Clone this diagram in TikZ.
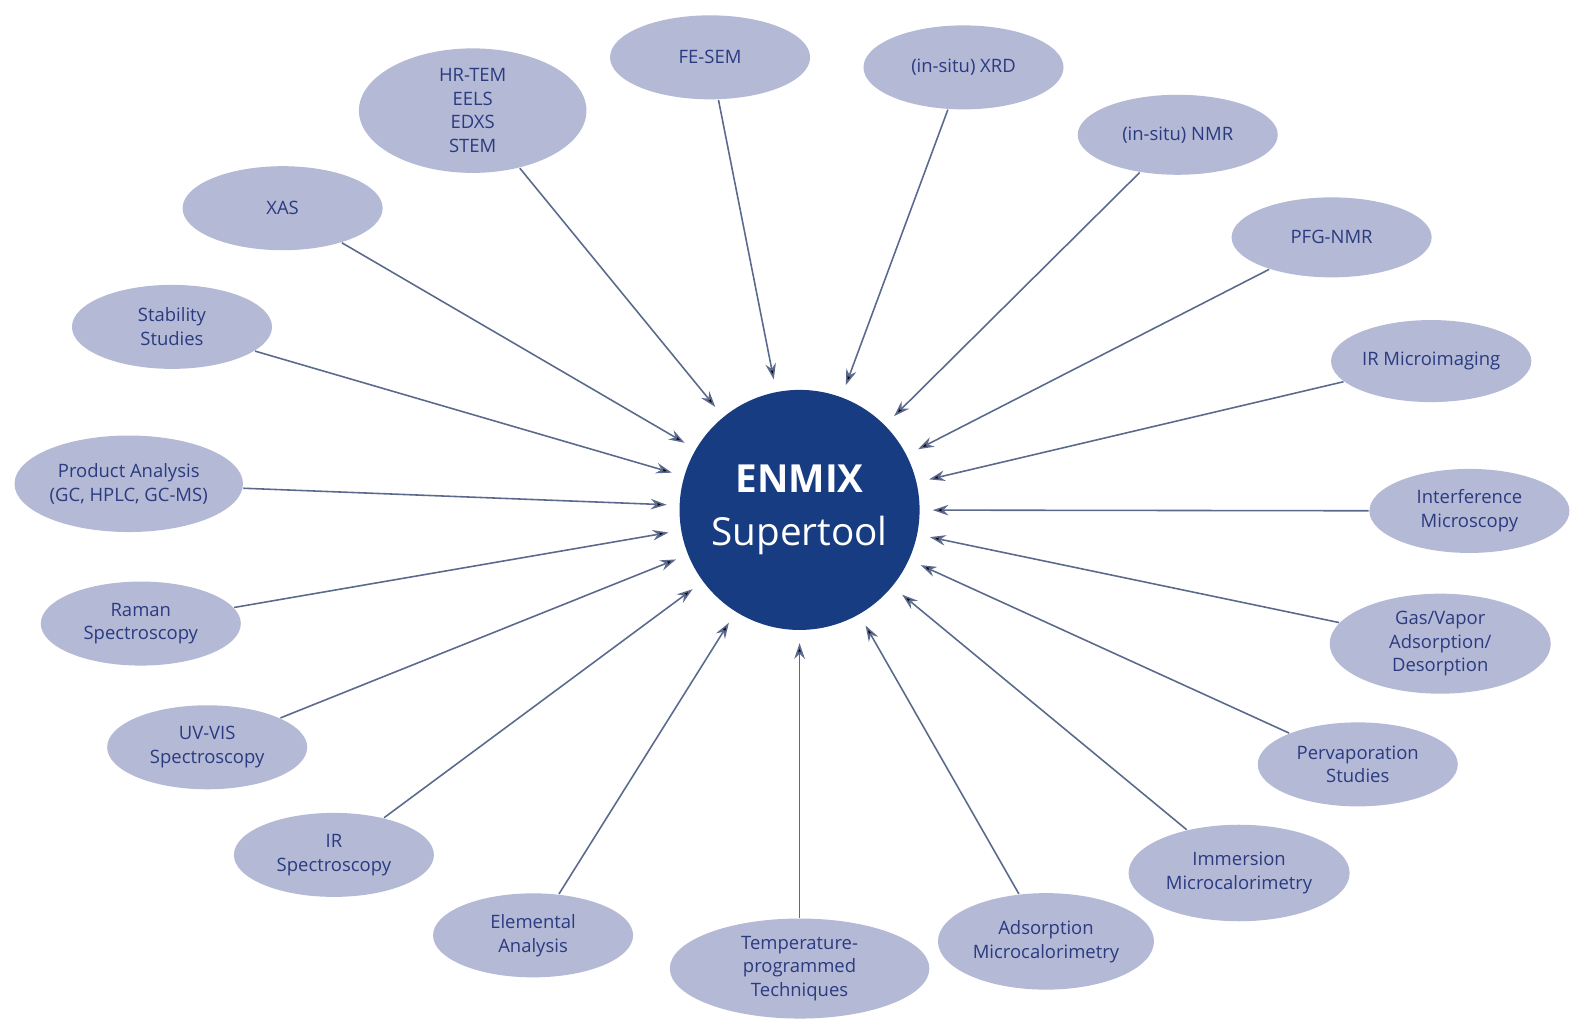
\documentclass[tikz,border=0pt]{standalone}
\usepackage{fontspec}
\setmainfont{Open Sans}
\usepackage[dvipsnames]{xcolor}
\usetikzlibrary{shapes.geometric,arrows.meta}
\definecolor{toolfill}{HTML}{B4B9D6}
\definecolor{tooltext}{HTML}{2A3B80}
\definecolor{corefill}{HTML}{173C82}
\definecolor{linkcol}{HTML}{5B6A8C}

\begin{document}
\begin{tikzpicture}[x=0.02011cm,y=-0.02011cm,->,>={Stealth[length=9pt,width=6pt]},shorten >=7pt,line width=0.9pt,
    tool node/.style={ellipse,fill=toolfill,text=tooltext,align=center,minimum width=4cm,minimum height=1.68cm,inner sep=1pt,font=\fontsize{10.5}{13.5}\selectfont},
    core node/.style={circle,fill=corefill,text=white,align=center,minimum size=4.8cm,font=\fontsize{22}{30}\selectfont}]
                \useasboundingbox (0,0) rectangle (1568,1017);

                \node[core node] (0) at (795,507) {\textbf{ENMIX}\\Supertool};

                \node[tool node] (1) at (706,57) {FE-SEM};
                \node[tool node] (2) at (958,67) {(in-situ) XRD};
                \node[tool node, minimum width=4.55cm, minimum height=2.25cm] (3) at (470,110) {HR-TEM\\EELS\\EDXS\\STEM};
                \node[tool node, minimum height=1.6cm] (4) at (1171,134) {(in-situ) NMR};
                \node[tool node] (5) at (281,207) {XAS};
                \node[tool node, minimum height=1.6cm] (6) at (1324,236) {PFG-NMR};
                \node[tool node] (7) at (171,325) {Stability\\Studies};
                \node[tool node, minimum height=1.64cm] (8) at (1423,359) {IR Microimaging};
                \node[tool node, minimum width=4.5cm, minimum height=1.93cm] (9) at (128,481) {Product Analysis\\(GC, HPLC, GC-MS)};
                \node[tool node] (10) at (1461,508) {Interference\\Microscopy};
                \node[tool node] (11) at (140,620) {Raman\\Spectroscopy};
                \node[tool node, minimum width=4.42cm, minimum height=2cm] (12) at (1432,640) {Gas/Vapor\\Adsorption/\\Desorption};
                \node[tool node] (13) at (206,743) {UV-VIS\\Spectroscopy};
                \node[tool node] (14) at (1350,760) {Pervaporation\\Studies};
                \node[tool node] (15) at (332,850) {IR\\Spectroscopy};
                \node[tool node, minimum width=4.42cm, minimum height=1.93cm] (16) at (1232,868) {Immersion\\Microcalorimetry};
                \node[tool node] (17) at (530,930) {Elemental\\Analysis};
                \node[tool node, minimum width=4.32cm, minimum height=1.93cm] (18) at (1040,936) {Adsorption\\Microcalorimetry};
                \node[tool node, minimum width=5.19cm, minimum height=2cm] (19) at (795,963) {Temperature-\\programmed\\Techniques};

                \path[draw=linkcol]
                    (1) edge (0)
                    (2) edge (0)
                    (3) edge (0)
                    (4) edge (0)
                    (5) edge (0)
                    (6) edge (0)
                    (7) edge (0)
                    (8) edge (0)
                    (9) edge (0)
                    (10) edge (0)
                    (11) edge (0)
                    (12) edge (0)
                    (13) edge (0)
                    (14) edge (0)
                    (15) edge (0)
                    (16) edge (0)
                    (17) edge (0)
                    (18) edge (0)
                    (19) edge (0)
                    ;
\end{tikzpicture}
\end{document}
